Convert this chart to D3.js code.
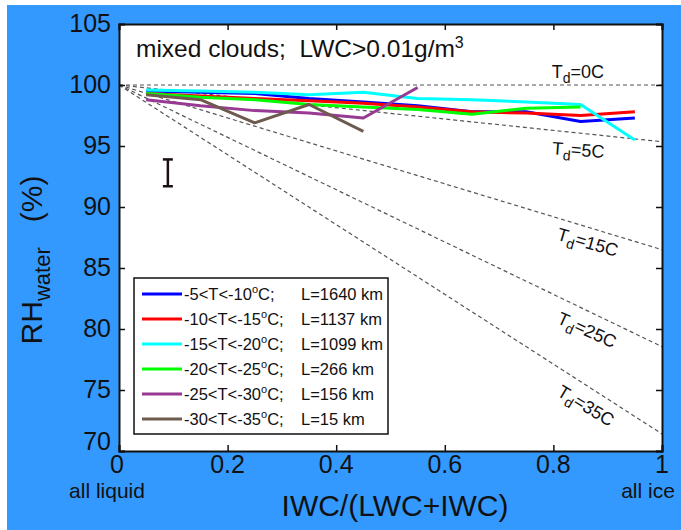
<!DOCTYPE html>
<html>
<head>
<meta charset="utf-8">
<script src="https://d3js.org/d3.v7.min.js"></script>
<style>
  body { margin: 0; background: #fff; }
  text { font-family: "Liberation Sans", Arial, sans-serif; fill: #111; }
</style>
</head>
<body>
<script>
// ice fraction bins (x positions of the curves)
var iceFrac = [0.05, 0.15, 0.25, 0.35, 0.45, 0.55, 0.65, 0.75, 0.85, 0.95];

// RH over water (%) for each temperature bin
var rhT5  = [99.5, 99.4, 99.3, 98.9, 98.6, 98.3, 97.8, 97.8, 97.0, 97.3];
var rhT10 = [99.3, 99.1, 98.9, 98.7, 98.5, 98.2, 97.8, 97.7, 97.5, 97.8];
var rhT15 = [99.6, 99.5, 99.4, 99.2, 99.4, 98.9, 98.8, 98.6, 98.4, 95.5];
var rhT20 = [99.3, 99.0, 98.8, 98.4, 98.2, 98.0, 97.6, 98.1, 98.2];
var rhT25 = [98.8, 98.3, 97.9, 97.7, 97.3, 99.8];
var rhT30 = [99.2, 98.8, 96.9, 98.4, 96.2];

var tempLabels = ["-5<T<-10", "-10<T<-15", "-15<T<-20", "-20<T<-25", "-25<T<-30", "-30<T<-35"];
var lengthLabels = ["L=1640 km", "L=1137 km", "L=1099 km", "L=266 km", "L=156 km", "L=15 km"];
var colors = ["#0000ff", "#ff0000", "#00ffff", "#00ff00", "#983a94", "#6e5a4e"];

// dewpoint-depression reference lines: RH at x=0 and x=1
var tdNames = ["0", "5", "15", "25", "35"];
var tdStart = [100, 100, 100, 100, 100];
var tdEnd = [100, 95.35, 86.5, 78.55, 71.4];

var xTicks = [0, 0.2, 0.4, 0.6, 0.8, 1];
var yTicks = [70, 75, 80, 85, 90, 95, 100, 105];

// typical error bar
var errX = 0.09, errLo = 91.7, errHi = 93.9;

var W = 681, H = 530;
var x = d3.scaleLinear().domain([0, 1]).range([119, 662]);
var y = d3.scaleLinear().domain([70, 105]).range([451, 24]);

var svg = d3.select("body").append("svg")
  .attr("width", W).attr("height", H);

svg.append("rect").attr("x", 7).attr("y", 5).attr("width", W - 7).attr("height", H - 5)
  .attr("fill", "#3399ff");
svg.append("rect").attr("x", x(0)).attr("y", y(105))
  .attr("width", x(1) - x(0)).attr("height", y(70) - y(105)).attr("fill", "#fff");

// Td lines
var tdG = svg.append("g");
tdNames.forEach(function(n, i) {
  tdG.append("line")
    .attr("x1", x(0)).attr("y1", y(tdStart[i]))
    .attr("x2", x(1)).attr("y2", y(tdEnd[i]))
    .attr("stroke", "#555").attr("stroke-width", 1.2)
    .attr("stroke-dasharray", "4,3");
});

// Td labels
var tdLab = [
  {i: 0, fx: 0.797, off: -7, k: 0},
  {i: 1, fx: 0.797, off: 24, k: 0.7},
  {i: 2, fx: 0.805, off: 22, k: 0.95},
  {i: 3, fx: 0.805, off: 27, k: 0.95},
  {i: 4, fx: 0.805, off: 29, k: 0.95}
];
tdLab.forEach(function(l) {
  var x0 = x(l.fx);
  var y0 = y(tdStart[l.i] + (tdEnd[l.i] - tdStart[l.i]) * l.fx);
  var ang = Math.atan2(y(tdEnd[l.i]) - y(tdStart[l.i]), x(1) - x(0)) * 180 / Math.PI * l.k;
  var t = svg.append("text")
    .attr("transform", "translate(" + x0 + "," + (y0 + l.off) + ") rotate(" + ang + ")")
    .style("font-size", "18px");
  t.append("tspan").text("T");
  t.append("tspan").attr("dy", 5).style("font-size", "14px").text("d");
  t.append("tspan").attr("dy", -5).text("=" + tdNames[l.i] + "C");
});

// data lines
var series = [rhT5, rhT10, rhT15, rhT20, rhT25, rhT30];
var line = d3.line()
  .x(function(d, i) { return x(iceFrac[i]); })
  .y(function(d) { return y(d); });

series.forEach(function(s, k) {
  svg.append("path")
    .attr("d", line(s))
    .attr("fill", "none")
    .attr("stroke", colors[k])
    .attr("stroke-width", 3)
    .attr("stroke-linejoin", "round");
});

// error bar
var eg = svg.append("g").attr("stroke", "#1a1010").attr("stroke-width", 2.5);
eg.append("line").attr("x1", x(errX)).attr("x2", x(errX)).attr("y1", y(errLo)).attr("y2", y(errHi));
eg.append("line").attr("x1", x(errX) - 5).attr("x2", x(errX) + 5).attr("y1", y(errLo)).attr("y2", y(errLo));
eg.append("line").attr("x1", x(errX) - 5).attr("x2", x(errX) + 5).attr("y1", y(errHi)).attr("y2", y(errHi));

// axes box with inward ticks
var ax = svg.append("g");
ax.append("g").attr("transform", "translate(0," + y(70) + ")")
  .call(d3.axisBottom(x).tickValues(xTicks).tickSize(-6).tickFormat(""));
ax.append("g").attr("transform", "translate(0," + y(105) + ")")
  .call(d3.axisTop(x).tickValues(xTicks).tickSize(-6).tickFormat(""));
ax.append("g").attr("transform", "translate(" + x(0) + ",0)")
  .call(d3.axisLeft(y).tickValues(yTicks).tickSize(-6).tickFormat(""));
ax.append("g").attr("transform", "translate(" + x(1) + ",0)")
  .call(d3.axisRight(y).tickValues(yTicks).tickSize(-6).tickFormat(""));
ax.selectAll(".domain").attr("stroke", "#111").attr("stroke-width", 2);
ax.selectAll(".tick line").attr("stroke", "#111").attr("stroke-width", 1.5);

// tick labels
svg.selectAll(".ylab").data(yTicks).enter().append("text")
  .attr("x", x(0) - 8)
  .attr("y", function(d) { return d == 70 ? y(d) - 1 : y(d) + 8; })
  .attr("text-anchor", "end")
  .style("font-size", "25px")
  .text(function(d) { return d; });
svg.selectAll(".xlab").data(xTicks).enter().append("text")
  .attr("x", function(d) { return d == 0 ? x(d) - 2 : x(d); })
  .attr("y", y(70) + 22)
  .attr("text-anchor", "middle")
  .style("font-size", "25px")
  .text(function(d) { return d; });

// axis titles
svg.append("text").attr("x", 107).attr("y", 498).attr("text-anchor", "middle")
  .style("font-size", "21px").text("all liquid");
svg.append("text").attr("x", 648).attr("y", 498).attr("text-anchor", "middle")
  .style("font-size", "21px").text("all ice");
svg.append("text").attr("x", 395).attr("y", 516).attr("text-anchor", "middle")
  .style("font-size", "30px").text("IWC/(LWC+IWC)");

var yl = svg.append("text")
  .attr("transform", "translate(42,260) rotate(-90)")
  .attr("text-anchor", "middle")
  .style("font-size", "30px");
yl.append("tspan").text("RH");
yl.append("tspan").attr("dy", 8).style("font-size", "22px").text("water");
yl.append("tspan").attr("dy", -8).text("\u00a0\u00a0 (%)");

// title
var tt = svg.append("text").attr("x", 136).attr("y", 57).style("font-size", "24.5px");
tt.append("tspan").text("mixed clouds;\u00a0 LWC>0.01g/m");
tt.append("tspan").attr("dy", -9).style("font-size", "16px").text("3");

// legend
var lg = svg.append("g");
lg.append("rect").attr("x", 134).attr("y", 278).attr("width", 254).attr("height", 156)
  .attr("fill", "#fff").attr("stroke", "#111").attr("stroke-width", 1.5);
tempLabels.forEach(function(t, k) {
  var ry = 294 + k * 25;
  lg.append("line").attr("x1", 142).attr("x2", 182).attr("y1", ry).attr("y2", ry)
    .attr("stroke", colors[k]).attr("stroke-width", 3);
  var tx = lg.append("text").attr("x", 184).attr("y", ry + 6).style("font-size", "16.5px");
  tx.append("tspan").text(t);
  tx.append("tspan").attr("dy", -7).style("font-size", "11px").text("o");
  tx.append("tspan").attr("dy", 7).text("C;");
  lg.append("text").attr("x", 301).attr("y", ry + 6).style("font-size", "16.5px").text(lengthLabels[k]);
});
</script>
</body>
</html>
